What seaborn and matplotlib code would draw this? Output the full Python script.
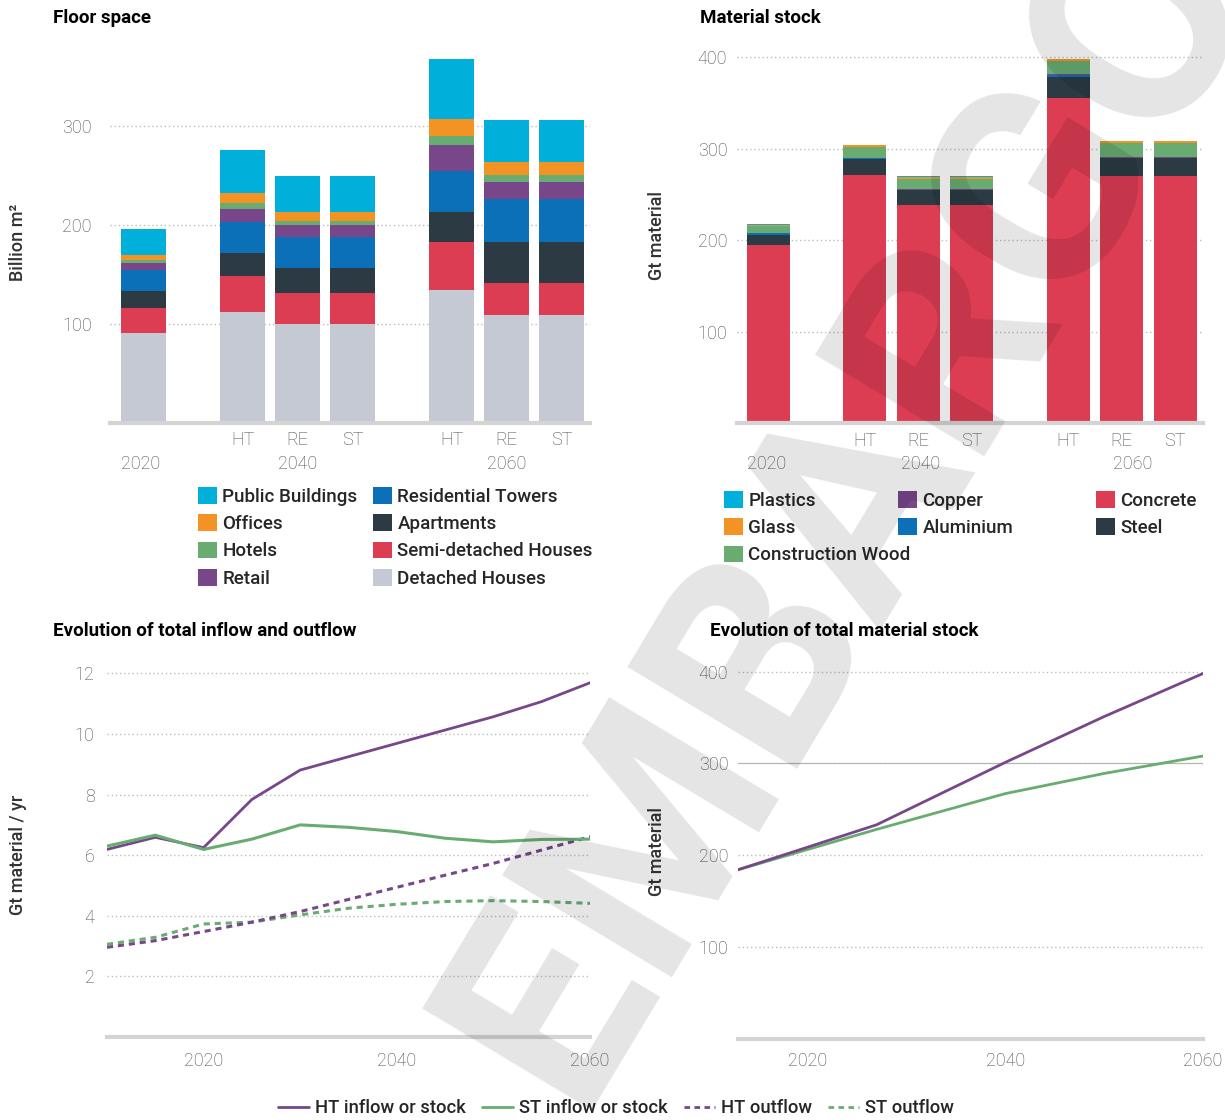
import numpy as np
import matplotlib
matplotlib.use('Agg')
import matplotlib.pyplot as plt
from matplotlib.patches import Patch
from matplotlib.lines import Line2D
import seaborn as sns

sns.set_theme(style='white')
plt.rcParams['font.family'] = ['Roboto', 'DejaVu Sans']

# ---- data ----
bar_pos = [0, 1.8, 2.8, 3.8, 5.6, 6.6, 7.6]
bar_ticks = ['', 'HT', 'RE', 'ST', 'HT', 'RE', 'ST']
group_labels = ['2020', '2040', '2060']

# floor space, billion m2 (bottom to top)
detached = [91, 112, 100, 100, 134.5, 109, 109]
semi_detached = [25, 36.5, 31.5, 31.5, 48.5, 32.5, 32.5]
apartments = [17, 23, 25.5, 25.5, 30.5, 41.5, 41.5]
res_towers = [22, 31.5, 30.5, 30.5, 41.5, 43.5, 43.5]
retail = [6.5, 13.5, 12, 12, 25.5, 17, 17]
hotels = [3.5, 6, 5, 5, 9, 7, 7]
offices = [4.5, 10, 9, 9, 18, 13, 13]
public_buildings = [26, 43.5, 36.5, 36.5, 60.5, 42.5, 42.5]

# material stock, Gt (bottom to top)
concrete = [195, 271, 238.5, 238.5, 355.5, 270, 270]
steel = [11, 17.5, 16.5, 16.5, 23, 20, 20]
aluminium = [2, 1.5, 0.5, 0.5, 2.5, 0.4, 0.4]
copper = [0.3, 0.3, 1, 1, 0.3, 1, 1]
wood = [7.5, 11.5, 11, 11, 14.5, 15, 15]
glass = [1.2, 2, 2, 2, 2, 2, 2]
plastics = [0.3, 0.3, 0.3, 0.3, 0.3, 0.3, 0.3]

# inflow / outflow, Gt per year
flow_years = [2010, 2015, 2020, 2025, 2030, 2035, 2040, 2045, 2050, 2055, 2060]
ht_inflow = [6.19, 6.59, 6.25, 7.84, 8.81, 9.25, 9.69, 10.13, 10.57, 11.07, 11.69]
st_inflow = [6.30, 6.66, 6.19, 6.53, 7.00, 6.92, 6.78, 6.56, 6.44, 6.52, 6.53]
ht_outflow = [2.96, 3.18, 3.48, 3.79, 4.14, 4.54, 4.94, 5.34, 5.73, 6.17, 6.61]
st_outflow = [3.06, 3.29, 3.73, 3.79, 4.03, 4.25, 4.38, 4.47, 4.50, 4.47, 4.41]

# total material stock, Gt
stock_years = [2013, 2027, 2040, 2050, 2060]
ht_stock = [184, 233, 301, 351, 398]
st_stock = [184, 228, 267, 289, 308]

# ---- colours ----
c_cyan = '#00B0DB'
c_orange = '#F39323'
c_green = '#68AC72'
c_purple = '#77478A'
c_blue = '#0B70B7'
c_dark = '#2B3A43'
c_red = '#DC3D53'
c_grey = '#C5C9D3'
tick_col = '#4a4a4a'

W, H = 1225, 1120


def rect(x0, y0, x1, y1):
    # pixel box -> figure fraction
    return [x0 / W, 1 - y1 / H, (x1 - x0) / W, (y1 - y0) / H]


def style(ax, yticks, ymax, ypad):
    ax.set_ylim(0, ymax)
    ax.set_yticks(yticks)
    ax.grid(axis='y', color='#bdbdbd', linestyle=(0, (1, 2)), linewidth=1)
    ax.grid(axis='x', visible=False)
    for s in ['top', 'right', 'left']:
        ax.spines[s].set_visible(False)
    ax.spines['bottom'].set_color('#d4d4d4')
    ax.spines['bottom'].set_linewidth(3)
    ax.tick_params(length=0, labelsize=13, labelcolor=tick_col)
    ax.tick_params(axis='y', pad=ypad)
    for lab in ax.get_xticklabels() + ax.get_yticklabels():
        lab.set_fontweight('light')
    ax.set_axisbelow(True)
    ax.set_xlabel('')
    ax.set_ylabel('')


def stacked(ax, layers, colors, width):
    bottom = np.zeros(len(bar_pos))
    for vals, col in zip(layers, colors):
        sns.barplot(x=bar_pos, y=vals, bottom=bottom.copy(), color=col, width=width,
                    native_scale=True, orient='x', errorbar=None, saturation=1,
                    linewidth=0, edgecolor='none', ax=ax)
        bottom += np.array(vals)


fig = plt.figure(figsize=(12.25, 11.2), dpi=100)

# ---- Floor space ----
ax1 = fig.add_axes(rect(110, 51.75, 590, 423))
stacked(ax1, [detached, semi_detached, apartments, res_towers, retail, hotels, offices, public_buildings],
        [c_grey, c_red, c_dark, c_blue, c_purple, c_green, c_orange, c_cyan], 0.82)
ax1.set_xlim(-0.61, 8.12)
ax1.set_xticks(bar_pos)
ax1.set_xticklabels(bar_ticks)
style(ax1, [100, 200, 300], 375, 13)
ax1.tick_params(axis='x', pad=6)
for gx, gl in zip([-0.05, 2.8, 6.6], group_labels):
    ax1.text(gx, -41 / 371.25, gl, transform=ax1.get_xaxis_transform(), ha='center', va='center',
             fontsize=13, color=tick_col, fontweight='light')

# ---- Material stock ----
ax2 = fig.add_axes(rect(737, 52.7, 1203, 423.3))
stacked(ax2, [concrete, steel, aluminium, copper, wood, glass, plastics],
        [c_red, c_dark, c_blue, c_purple, c_green, c_orange, c_cyan], 0.80)
ax2.set_xlim(-0.59, 8.12)
ax2.set_xticks(bar_pos)
ax2.set_xticklabels(bar_ticks)
style(ax2, [100, 200, 300, 400], 405, 7)
ax2.tick_params(axis='x', pad=6)
for gx, gl in zip([-0.03, 2.85, 6.8], group_labels):
    ax2.text(gx, -41 / 370.6, gl, transform=ax2.get_xaxis_transform(), ha='center', va='center',
             fontsize=13, color=tick_col, fontweight='light')

# ---- Inflow / outflow ----
ax3 = fig.add_axes(rect(107, 664.3, 590, 1037))
sns.lineplot(x=flow_years, y=st_outflow, color=c_green, lw=2.2, linestyle=(0, (2, 1.6)), ax=ax3)
sns.lineplot(x=flow_years, y=ht_outflow, color=c_purple, lw=2.2, linestyle=(0, (2, 1.6)), ax=ax3)
sns.lineplot(x=flow_years, y=ht_inflow, color=c_purple, lw=2, ax=ax3)
sns.lineplot(x=flow_years, y=st_inflow, color=c_green, lw=2.2, ax=ax3)
ax3.set_xlim(2010, 2060)
ax3.set_xticks([2020, 2040, 2060])
style(ax3, [2, 4, 6, 8, 10, 12], 12.3, 9)
ax3.tick_params(axis='x', pad=11)

# ---- Total material stock ----
ax4 = fig.add_axes(rect(738, 662.5, 1203, 1038.5))
sns.lineplot(x=stock_years, y=st_stock, color=c_green, lw=2, ax=ax4)
sns.lineplot(x=stock_years, y=ht_stock, color=c_purple, lw=2, ax=ax4)
ax4.set_xlim(2013, 2060)
ax4.set_xticks([2020, 2040, 2060])
style(ax4, [100, 200, 300, 400], 410, 7)
ax4.axhline(300, color='#b0b0b0', lw=0.8, zorder=0.5)
ax4.tick_params(axis='x', pad=10)

# ---- titles and axis labels ----
title_kw = dict(fontsize=13.5, fontweight='bold', color='black', va='center', ha='left')
fig.text(53 / W, 1 - 18 / H, 'Floor space', **title_kw)
fig.text(700 / W, 1 - 18 / H, 'Material stock', **title_kw)
fig.text(53 / W, 1 - 631 / H, 'Evolution of total inflow and outflow', **title_kw)
fig.text(710 / W, 1 - 631 / H, 'Evolution of total material stock', **title_kw)

ylab_kw = dict(rotation=90, ha='center', va='center', fontsize=13, fontweight='medium', color='#333333')
fig.text(18 / W, 1 - 242 / H, 'Billion m²', **ylab_kw)
fig.text(657 / W, 1 - 235 / H, 'Gt material', **ylab_kw)
fig.text(18 / W, 1 - 855 / H, 'Gt material / yr', **ylab_kw)
fig.text(657 / W, 1 - 852 / H, 'Gt material', **ylab_kw)

# ---- legends ----
leg_kw = dict(loc='upper left', frameon=False, borderpad=0, borderaxespad=0,
              handlelength=1.0, handleheight=1.0, handletextpad=0.3, labelspacing=0.45,
              prop={'size': 13.5, 'weight': 'medium'})


def patches(names, colors):
    return [Patch(facecolor=c, edgecolor='none', label=n) for n, c in zip(names, colors)]


fig.legend(handles=patches(['Public Buildings', 'Offices', 'Hotels', 'Retail'],
                           [c_cyan, c_orange, c_green, c_purple]),
           bbox_to_anchor=(198 / W, 1 - 487 / H), **leg_kw)
fig.legend(handles=patches(['Residential Towers', 'Apartments', 'Semi-detached Houses', 'Detached Houses'],
                           [c_blue, c_dark, c_red, c_grey]),
           bbox_to_anchor=(373 / W, 1 - 487 / H), **leg_kw)
fig.legend(handles=patches(['Plastics', 'Glass', 'Construction Wood'], [c_cyan, c_orange, c_green]),
           bbox_to_anchor=(724 / W, 1 - 491 / H), **leg_kw)
fig.legend(handles=patches(['Copper', 'Aluminium'], [c_purple, c_blue]),
           bbox_to_anchor=(898 / W, 1 - 491 / H), **leg_kw)
fig.legend(handles=patches(['Concrete', 'Steel'], [c_red, c_dark]),
           bbox_to_anchor=(1096 / W, 1 - 491 / H), **leg_kw)

line_handles = [
    Line2D([], [], color=c_purple, lw=2, label='HT inflow or stock'),
    Line2D([], [], color=c_green, lw=2, label='ST inflow or stock'),
    Line2D([], [], color=c_purple, lw=2, linestyle=(0, (2, 1.6)), label='HT outflow'),
    Line2D([], [], color=c_green, lw=2, linestyle=(0, (2, 1.6)), label='ST outflow'),
]
fig.legend(handles=line_handles, loc='center', bbox_to_anchor=(616 / W, 1 - 1108 / H), ncol=4,
           frameon=False, borderpad=0, handlelength=1.7, handletextpad=0.3, columnspacing=0.9,
           prop={'size': 13.2, 'weight': 'medium'})

# ---- watermark ----
fig.text(850 / W, 1 - 505 / H, 'EMBARGO', rotation=59, rotation_mode='anchor', ha='center', va='center',
         fontsize=200, fontweight='bold', color='black', alpha=0.105, zorder=10)

fig.savefig('out.png', dpi=100)
